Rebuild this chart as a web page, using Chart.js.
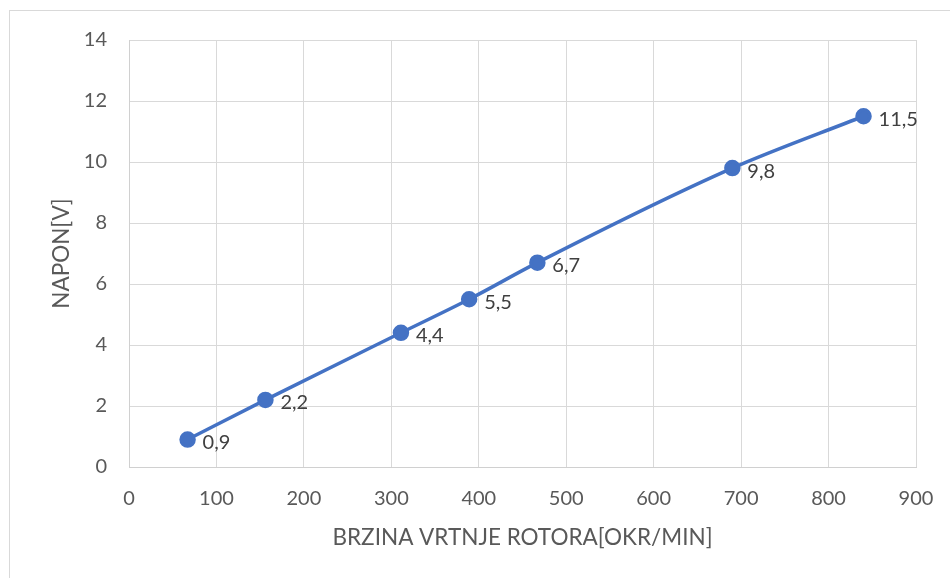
<!DOCTYPE html>
<html>
<head>
<meta charset="utf-8">
<script src="https://cdn.jsdelivr.net/npm/chart.js@4.4.0/dist/chart.umd.min.js"></script>
<style>
  body { margin: 0; background: #fff; }
  #wrap { width: 950px; height: 578px; position: relative; }
</style>
</head>
<body>
<div id="wrap"><canvas id="c"></canvas></div>
<script>
// brzina vrtnje (okr/min) i napon (V)
const brzina = [67, 156, 311, 389, 467, 690, 840];
const napon = [0.9, 2.2, 4.4, 5.5, 6.7, 9.8, 11.5];

const tekst = '#595959';
const font = 'Lato, "Noto Sans", sans-serif';

// okvir oko grafa
const okvir = {
  id: 'okvir',
  beforeDraw(chart) {
    const ctx = chart.ctx;
    ctx.save();
    ctx.strokeStyle = '#d9d9d9';
    ctx.lineWidth = 1;
    ctx.strokeRect(9.5, 10.5, 1000, 1000);
    ctx.restore();
  }
};

// oznake vrijednosti desno od tocaka
const oznake = {
  id: 'oznake',
  afterDatasetsDraw(chart) {
    const ctx = chart.ctx;
    const meta = chart.getDatasetMeta(0);
    ctx.save();
    ctx.fillStyle = '#404040';
    ctx.font = '20px ' + font;
    ctx.textAlign = 'left';
    ctx.textBaseline = 'middle';
    meta.data.forEach((p, i) => {
      ctx.fillText(String(napon[i]).replace('.', ','), p.x + 15, p.y + 3);
    });
    ctx.restore();
  }
};

new Chart(document.getElementById('c'), {
  type: 'scatter',
  data: {
    datasets: [{
      data: brzina.map((x, i) => ({ x: x, y: napon[i] })),
      showLine: true,
      borderColor: '#4472C4',
      backgroundColor: '#4472C4',
      borderWidth: 3.5,
      pointRadius: 6.5,
      pointHoverRadius: 6.5,
      tension: 0.3,
      cubicInterpolationMode: 'monotone'
    }]
  },
  options: {
    responsive: true,
    maintainAspectRatio: false,
    animation: false,
    layout: { padding: { top: 40, right: 34, left: 0, bottom: 0 } },
    plugins: { legend: { display: false }, tooltip: { enabled: false } },
    scales: {
      x: {
        type: 'linear',
        min: 0, max: 900,
        ticks: { stepSize: 100, color: tekst, font: { size: 20, family: font }, padding: 20 },
        grid: { color: '#d9d9d9', drawTicks: false },
        border: { color: '#d0d0d0' },
        title: { display: true, text: 'BRZINA VRTNJE ROTORA[OKR/MIN]', color: tekst,
                 font: { size: 22.5, family: font }, padding: { top: 27, bottom: 27 } },
        afterFit(s) { s.height = 111; s.paddingLeft = 0; s.paddingRight = 0; }
      },
      y: {
        min: 0, max: 14,
        ticks: { stepSize: 2, color: tekst, font: { size: 20, family: font }, padding: 22 },
        grid: { color: '#d9d9d9', drawTicks: false },
        border: { color: '#d0d0d0' },
        title: { display: true, text: 'NAPON[V]', color: tekst,
                 font: { size: 22.5, family: font }, padding: { top: 48, bottom: 48 } },
        afterFit(s) { s.width = 129; s.paddingTop = 0; s.paddingBottom = 0; }
      }
    }
  },
  plugins: [okvir, oznake]
});
</script>
</body>
</html>
